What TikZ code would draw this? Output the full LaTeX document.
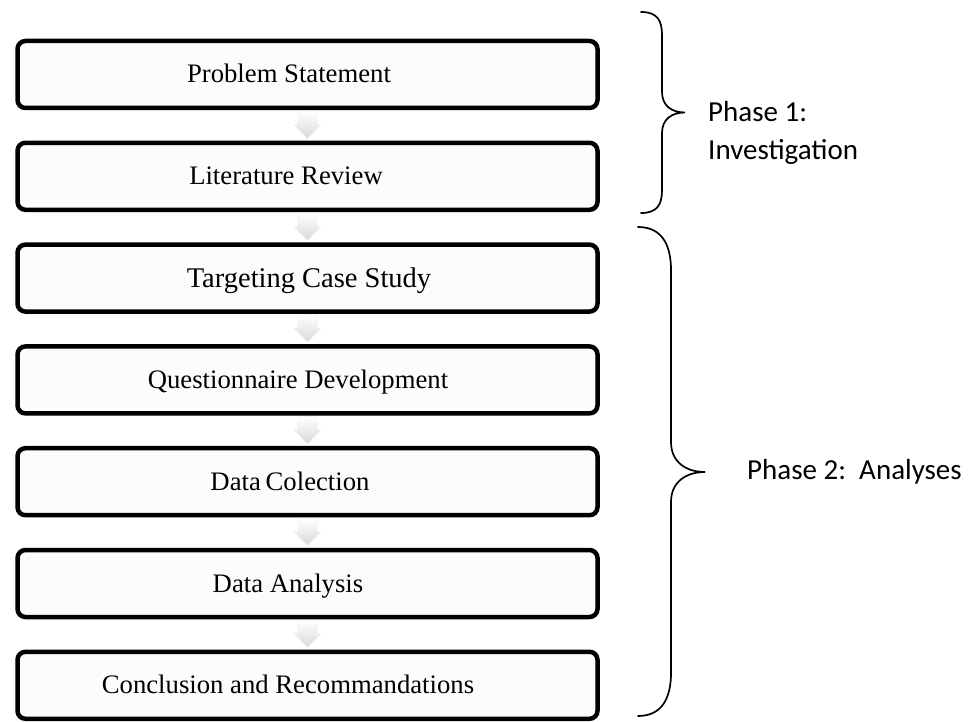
\documentclass[tikz,border=0pt]{standalone}
\usepackage{fontspec}
\setmainfont{Liberation Serif}
\newfontfamily\calibri{Carlito}
\usetikzlibrary{calc}
\begin{document}
\begin{tikzpicture}[x=1pt,y=-1pt,
  stepbox/.style={draw=black, line width=4.5pt, rounded corners=8pt,
    fill=white!99!black, minimum width=580pt, minimum height=67pt, inner sep=0pt},
  steptext/.style={font=\fontsize{26.7}{32}\selectfont, inner sep=0pt, anchor=base},
  flowarrow/.style={top color=white, bottom color=black!15, draw=black!6, line width=0.4pt},
  bracepath/.style={line width=1.7pt, line cap=round},
  phasetext/.style={font=\calibri\fontsize{29}{38}\selectfont, anchor=west, align=left, inner sep=0pt}]
\useasboundingbox (0,0) rectangle (975,722);

% boxes
\foreach \i/\y in {1/74.5,2/176.3,3/278.1,4/379.9,5/481.7,6/583.5,7/685.3}
  \node[stepbox] (b\i) at (307.5,\y) {};

% arrows between boxes
\foreach \i/\j in {1/2,2/3,3/4,4/5,5/6,6/7}
  \path[flowarrow] ($(b\i.south)+(-10,1)$) -- ($(b\i.south)+(10,1)$)
     -- ($(b\j.north)+(10,-16)$) -- ($(b\j.north)+(13.5,-16)$)
     -- ($(b\j.north)+(0,-2)$) -- ($(b\j.north)+(-13.5,-16)$)
     -- ($(b\j.north)+(-10,-16)$) -- cycle;

% texts
\node[steptext] (t1) at (289,83) {Problem Statement};
\node[steptext] (t2) at (286,184.8) {Literature Review};
\node[steptext, font=\fontsize{28.5}{34}\selectfont] (t3) at (309,287.2) {Targeting Case Study};
\node[steptext] (t4) at (298,388.4) {Questionnaire Development};
\node[steptext] (t5) at (290,490.2) {Data\hspace{0.18em}Colection};
\node[steptext] (t6) at (288,592) {Data Analysis};
\node[steptext] (t7) at (288,693.8) {Conclusion and Recommandations};

% braces
\draw[bracepath] (641,12) .. controls (657,12) and (662,20) .. (662,35)
  -- (662,92) .. controls (662,106) and (672,112.5) .. (685,112.5)
  .. controls (672,112.5) and (662,119) .. (662,133)
  -- (662,190) .. controls (662,205) and (657,213) .. (641,213);
\draw[bracepath] (638,227) .. controls (662,227) and (671,245) .. (671,270)
  -- (671,442) .. controls (671,462) and (686,472) .. (705,472)
  .. controls (686,472) and (671,482) .. (671,502)
  -- (671,673) .. controls (671,698) and (662,716) .. (638,716);

% phase labels
\node[phasetext] (p1) at (708,133) {Phase 1:\\Investigation};
\node[phasetext] (p2) at (747,472) {Phase 2:\ \ Analyses};
\end{tikzpicture}
\end{document}
